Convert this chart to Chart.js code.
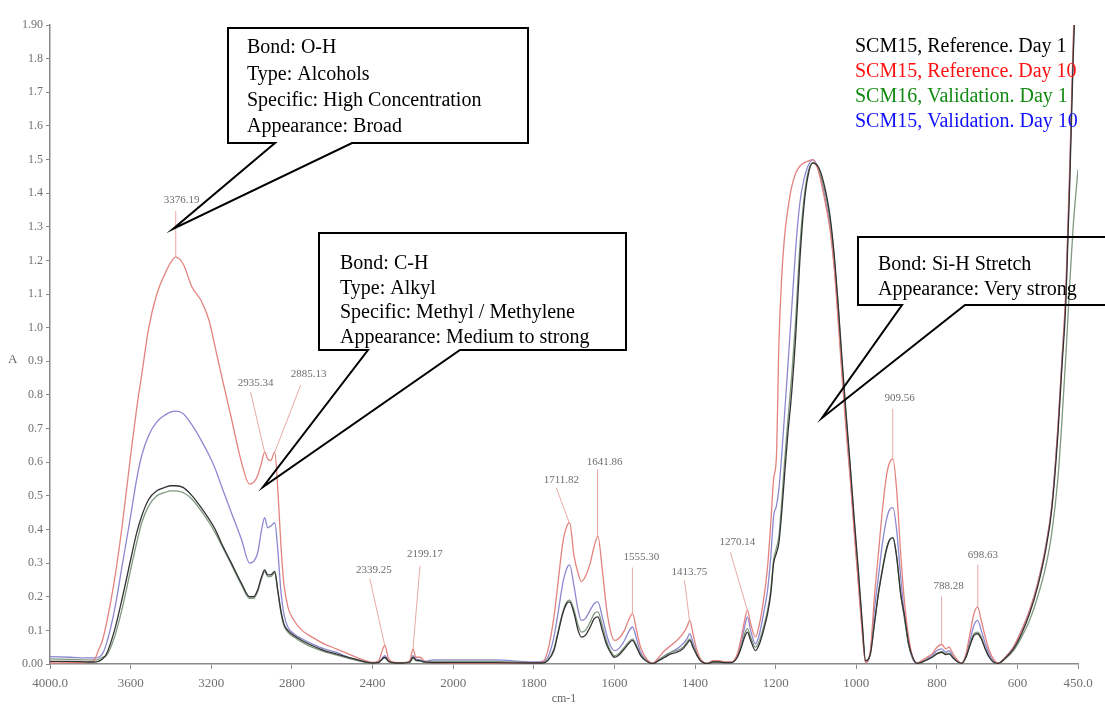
<!DOCTYPE html>
<html>
<head>
<meta charset="utf-8">
<script src="https://cdn.jsdelivr.net/npm/chart.js@4.4.0/dist/chart.umd.min.js"></script>
<style>
  html, body { margin: 0; padding: 0; background: #fff; }
</style>
</head>
<body>
<canvas id="grafico" width="1105" height="706"></canvas>
<script>
const numeroOnda = [
  4000, 3900, 3800, 3780, 3760, 3740, 3720, 3680, 3640, 3600, 3570, 3545, 3510, 3470, 3430, 3400, 3376, 3340, 3295, 3250, 3210, 3180, 3150, 3100, 3050, 3010,
  2990, 2970, 2950, 2935, 2920, 2905, 2885, 2870, 2855, 2840, 2820, 2790, 2750, 2700, 2640, 2580, 2520, 2460, 2400,
  2370, 2339, 2320, 2290, 2250, 2215, 2199, 2185, 2165, 2140, 2100, 2050, 2000, 1900, 1800,
  1780, 1765, 1750, 1740, 1728, 1718, 1711, 1700, 1690, 1682, 1672, 1660, 1650, 1641, 1630, 1620, 1610, 1600, 1590, 1575, 1565, 1555, 1545, 1535, 1520, 1505, 1490, 1475, 1460, 1445, 1430, 1420, 1413, 1405, 1395, 1385, 1370, 1355, 1340, 1325, 1310, 1295, 1285, 1277, 1270, 1262, 1250, 1240, 1230, 1220, 1212,
  1205, 1198, 1192, 1185, 1178, 1170, 1160, 1150, 1140, 1130, 1120, 1108, 1095, 1085, 1075, 1065, 1055, 1045, 1035, 1025, 1015, 1005, 995, 985, 977,
  965, 955, 945, 935, 925, 917, 909, 900, 890, 880, 870, 860, 850, 838, 825, 812, 800, 788, 778, 770, 760, 748, 738, 728, 718, 708, 699, 690, 680, 670, 660, 648, 630, 610, 590, 570, 550, 530, 515, 500, 490, 480, 470, 462, 450
];

// SCM15, Reference. Day 1
const refDia1 = [
  0.008, 0.008, 0.006, 0.006, 0.008, 0.015, 0.03, 0.10, 0.20, 0.31, 0.39, 0.44, 0.49, 0.515, 0.525, 0.53, 0.53, 0.525, 0.50, 0.465, 0.43, 0.40, 0.36, 0.30, 0.24, 0.20,
  0.20, 0.22, 0.26, 0.28, 0.265, 0.265, 0.275, 0.22, 0.16, 0.12, 0.10, 0.085, 0.07, 0.055, 0.04, 0.03, 0.02, 0.01, 0.003,
  0.005, 0.02, 0.008, 0.003, 0.003, 0.006, 0.02, 0.012, 0.01, 0.006, 0.004, 0.004, 0.004, 0.004, 0.003,
  0.003, 0.01, 0.04, 0.09, 0.15, 0.18, 0.185, 0.15, 0.10, 0.08, 0.085, 0.11, 0.135, 0.14, 0.10, 0.06, 0.035, 0.02, 0.025, 0.045, 0.06, 0.07, 0.05, 0.025, 0.008, 0.001, 0.01, 0.02, 0.03, 0.035, 0.045, 0.06, 0.07, 0.05, 0.025, 0.008, 0.001, 0.006, 0.006, 0.004, 0.004, 0.02, 0.05, 0.08, 0.095, 0.07, 0.04, 0.06, 0.10, 0.15, 0.21,
  0.30, 0.33, 0.36, 0.45, 0.56, 0.68, 0.81, 0.98, 1.20, 1.36, 1.45, 1.49, 1.48, 1.45, 1.40, 1.33, 1.22, 1.07, 0.90, 0.74, 0.59, 0.43, 0.28, 0.12, 0.01,
  0.03, 0.12, 0.21, 0.28, 0.34, 0.37, 0.375, 0.32, 0.21, 0.14, 0.06, 0.02, 0.002, 0.005, 0.012, 0.02, 0.03, 0.035, 0.028, 0.03, 0.018, 0.006, 0.002, 0.02, 0.055, 0.085, 0.09, 0.075, 0.045, 0.02, 0.006, 0.002, 0.018, 0.045, 0.09, 0.15, 0.23, 0.34, 0.46, 0.68, 0.88, 1.08, 1.45, 1.80, 2.20
];

// SCM15, Reference. Day 10
const refDia10 = [
  0.003, 0.004, 0.006, 0.012, 0.04, 0.07, 0.12, 0.25, 0.42, 0.62, 0.76, 0.86, 1.00, 1.10, 1.16, 1.195, 1.21, 1.19, 1.12, 1.08, 1.02, 0.94, 0.86, 0.73, 0.60, 0.535,
  0.54, 0.56, 0.60, 0.63, 0.61, 0.605, 0.63, 0.52, 0.36, 0.24, 0.17, 0.13, 0.10, 0.08, 0.06, 0.045, 0.03, 0.015, 0.005,
  0.01, 0.055, 0.015, 0.005, 0.004, 0.01, 0.045, 0.02, 0.02, 0.008, 0.004, 0.003, 0.002, 0.002, 0.004,
  0.005, 0.04, 0.14, 0.24, 0.36, 0.41, 0.42, 0.32, 0.27, 0.245, 0.26, 0.30, 0.35, 0.38, 0.28, 0.17, 0.10, 0.07, 0.075, 0.10, 0.13, 0.15, 0.10, 0.05, 0.015, 0.002, 0.02, 0.04, 0.055, 0.07, 0.09, 0.11, 0.13, 0.09, 0.04, 0.012, 0.002, 0.01, 0.01, 0.006, 0.006, 0.03, 0.08, 0.13, 0.16, 0.12, 0.08, 0.12, 0.19, 0.29, 0.42,
  0.55, 0.62, 0.95, 1.15, 1.27, 1.35, 1.42, 1.46, 1.48, 1.49, 1.495, 1.50, 1.47, 1.42, 1.36, 1.29, 1.18, 1.02, 0.85, 0.69, 0.55, 0.39, 0.24, 0.09, 0.005,
  0.04, 0.20, 0.33, 0.46, 0.56, 0.60, 0.61, 0.52, 0.33, 0.18, 0.08, 0.02, 0.003, 0.01, 0.02, 0.03, 0.05, 0.058, 0.045, 0.05, 0.03, 0.01, 0.003, 0.03, 0.09, 0.15, 0.17, 0.13, 0.08, 0.04, 0.015, 0.003, 0.02, 0.05, 0.10, 0.16, 0.24, 0.35, 0.47, 0.70, 0.90, 1.12, 1.50, 1.85, 2.30
];

// SCM16, Validation. Day 1
const valDia1 = [
  0.015, 0.014, 0.012, 0.012, 0.014, 0.02, 0.025, 0.08, 0.17, 0.28, 0.36, 0.42, 0.47, 0.50, 0.51, 0.515, 0.515, 0.51, 0.49, 0.455, 0.42, 0.39, 0.355, 0.295, 0.235, 0.195,
  0.195, 0.215, 0.255, 0.275, 0.26, 0.26, 0.27, 0.215, 0.155, 0.115, 0.095, 0.08, 0.065, 0.05, 0.037, 0.027, 0.017, 0.008, 0.002,
  0.004, 0.018, 0.007, 0.003, 0.003, 0.005, 0.018, 0.01, 0.009, 0.005, 0.008, 0.008, 0.008, 0.008, 0.004,
  0.004, 0.012, 0.045, 0.095, 0.155, 0.185, 0.19, 0.16, 0.115, 0.095, 0.10, 0.125, 0.15, 0.155, 0.115, 0.07, 0.04, 0.025, 0.03, 0.05, 0.065, 0.075, 0.055, 0.028, 0.009, 0.001, 0.012, 0.025, 0.035, 0.04, 0.05, 0.065, 0.075, 0.055, 0.028, 0.009, 0.001, 0.007, 0.007, 0.005, 0.005, 0.022, 0.055, 0.09, 0.105, 0.08, 0.05, 0.07, 0.11, 0.16, 0.22,
  0.31, 0.345, 0.38, 0.48, 0.60, 0.72, 0.86, 1.03, 1.24, 1.38, 1.46, 1.49, 1.475, 1.44, 1.39, 1.32, 1.21, 1.06, 0.89, 0.73, 0.58, 0.42, 0.27, 0.11, 0.008,
  0.03, 0.12, 0.21, 0.285, 0.345, 0.37, 0.375, 0.32, 0.21, 0.13, 0.055, 0.018, 0.002, 0.006, 0.013, 0.02, 0.032, 0.037, 0.03, 0.032, 0.02, 0.006, 0.002, 0.02, 0.06, 0.09, 0.095, 0.08, 0.045, 0.02, 0.006, 0.002, 0.016, 0.04, 0.08, 0.13, 0.20, 0.29, 0.39, 0.55, 0.72, 0.92, 1.14, 1.30, 1.47
];

// SCM15, Validation. Day 10
const valDia10 = [
  0.022, 0.02, 0.018, 0.018, 0.02, 0.03, 0.06, 0.16, 0.30, 0.44, 0.55, 0.62, 0.68, 0.72, 0.74, 0.75, 0.752, 0.745, 0.71, 0.665, 0.62, 0.58, 0.53, 0.45, 0.37, 0.30,
  0.305, 0.33, 0.40, 0.435, 0.405, 0.41, 0.42, 0.34, 0.22, 0.15, 0.11, 0.09, 0.075, 0.06, 0.045, 0.035, 0.02, 0.01, 0.003,
  0.005, 0.025, 0.01, 0.004, 0.004, 0.008, 0.025, 0.015, 0.012, 0.008, 0.012, 0.012, 0.012, 0.012, 0.006,
  0.008, 0.02, 0.08, 0.15, 0.24, 0.285, 0.295, 0.23, 0.16, 0.13, 0.135, 0.16, 0.18, 0.185, 0.14, 0.09, 0.055, 0.04, 0.045, 0.07, 0.095, 0.11, 0.075, 0.035, 0.01, 0.002, 0.012, 0.025, 0.035, 0.045, 0.06, 0.075, 0.09, 0.065, 0.03, 0.01, 0.002, 0.008, 0.008, 0.005, 0.005, 0.025, 0.065, 0.11, 0.14, 0.10, 0.06, 0.09, 0.15, 0.22, 0.32,
  0.44, 0.47, 0.52, 0.62, 0.74, 0.88, 1.06, 1.24, 1.37, 1.44, 1.48, 1.50, 1.475, 1.43, 1.37, 1.30, 1.19, 1.04, 0.87, 0.71, 0.56, 0.40, 0.25, 0.10, 0.005,
  0.035, 0.16, 0.26, 0.36, 0.43, 0.46, 0.465, 0.40, 0.26, 0.14, 0.06, 0.015, 0.002, 0.008, 0.015, 0.025, 0.04, 0.045, 0.035, 0.04, 0.022, 0.008, 0.002, 0.025, 0.07, 0.115, 0.13, 0.10, 0.06, 0.03, 0.01, 0.002, 0.02, 0.05, 0.10, 0.16, 0.24, 0.35, 0.47, 0.70, 0.90, 1.10, 1.48, 1.82, 2.25
];

const nomesSeries = ['SCM15, Reference. Day 1', 'SCM15, Reference. Day 10', 'SCM16, Validation. Day 1', 'SCM15, Validation. Day 10'];
const rotulosX = [4000, 3600, 3200, 2800, 2400, 2000, 1800, 1600, 1400, 1200, 1000, 800, 600, 450];

// picos marcados no espectro
const picosTexto = ['3376.19', '2935.34', '2885.13', '2339.25', '2199.17', '1711.82', '1641.86', '1555.30', '1413.75', '1270.14', '909.56', '788.28', '698.63'];
const picosOnda = [3376.19, 2935.34, 2885.13, 2339.25, 2199.17, 1711.82, 1641.86, 1555.30, 1413.75, 1270.14, 909.56, 788.28, 698.63];
const picosAbs = [1.21, 0.63, 0.63, 0.055, 0.045, 0.42, 0.38, 0.15, 0.13, 0.16, 0.61, 0.058, 0.17];

// cores / estilos
const coresLinha = ['#333333', '#e3837f', '#7f987f', '#8c88d0'];
const coresLegenda = ['#000000', '#ff1010', '#138a13', '#1010ff'];

// deslocamentos (px) de cada rotulo de pico: [linhaDx, linhaDy, textoDx, textoDy]
const deslocPicos = [
  [0, -46, 6, -57], [-14, -60, -9, -69], [26, -67, 34, -78], [-15, -67, -11, -75], [7, -83, 12, -95],
  [-13, -35, -8, -43], [0, -67, 7, -74], [0, -46, 9, -56], [-5, -40, 0, -48], [-17, -58, -10, -68],
  [0, -50, 7, -61], [0, -48, 7, -58], [0, -42, 5, -52]
];

// caixas de comentario
const caixas = [
  { linhas: ['Bond: O-H', 'Type: Alcohols', 'Specific: High Concentration', 'Appearance: Broad'],
    x0: 228, y0: 28, x1: 528, y1: 143, base: [275, 352], ponta: [173, 229], tx: 247, ty: 48, dy: 26.3 },
  { linhas: ['Bond: C-H', 'Type: Alkyl', 'Specific: Methyl / Methylene', 'Appearance: Medium to strong'],
    x0: 319, y0: 233, x1: 626, y1: 350, base: [368, 460], ponta: [263, 487], tx: 340, ty: 264, dy: 24.5 },
  { linhas: ['Bond: Si-H Stretch', 'Appearance: Very strong'],
    x0: 858, y0: 237, x1: 1115, y1: 305, base: [902, 965], ponta: [822, 418], tx: 878, ty: 265, dy: 25 }
];

// escala x com duas regioes (4000-2000 comprimida, 2000-450 expandida)
function ondaParaU(v) { return v >= 2000 ? (4000 - v) / 2 : 1000 + (2000 - v); }
function uParaOnda(u) { return u <= 1000 ? 4000 - u * 2 : 2000 - (u - 1000); }
const U_MAX = ondaParaU(450);

class EscalaOnda extends Chart.LinearScale {
  buildTicks() { return rotulosX.map(v => ({ value: v })); }
  getPixelForValue(v) { return this.getPixelForDecimal(ondaParaU(v) / U_MAX); }
  getValueForPixel(p) { return uParaOnda(this.getDecimalForPixel(p) * U_MAX); }
}
EscalaOnda.id = 'escalaOnda';
EscalaOnda.defaults = Chart.LinearScale.defaults;
Chart.register(EscalaOnda);

const serif = '"Liberation Serif", "Times New Roman", serif';
Chart.defaults.font.family = serif;

const anotacoes = {
  id: 'anotacoes',
  afterDatasetsDraw(chart) {
    const ctx = chart.ctx;
    const sx = chart.scales.x, sy = chart.scales.y;
    ctx.save();

    // rotulos dos picos
    ctx.font = '11px ' + serif;
    ctx.textAlign = 'center';
    ctx.textBaseline = 'middle';
    picosTexto.forEach((t, i) => {
      const px = sx.getPixelForValue(picosOnda[i]);
      const py = sy.getPixelForValue(picosAbs[i]);
      const d = deslocPicos[i];
      ctx.strokeStyle = '#e9aaa3';
      ctx.lineWidth = 1;
      ctx.beginPath();
      ctx.moveTo(px, py);
      ctx.lineTo(px + d[0], py + d[1]);
      ctx.stroke();
      ctx.fillStyle = '#6e6e6e';
      ctx.fillText(t, px + d[2], py + d[3]);
    });

    // caixas de comentario
    ctx.strokeStyle = '#000';
    ctx.lineWidth = 2;
    ctx.textAlign = 'left';
    ctx.font = '20px ' + serif;
    caixas.forEach(c => {
      ctx.beginPath();
      ctx.moveTo(c.base[0], c.y1);
      ctx.lineTo(c.x0, c.y1);
      ctx.lineTo(c.x0, c.y0);
      ctx.lineTo(c.x1, c.y0);
      ctx.lineTo(c.x1, c.y1);
      ctx.lineTo(c.base[1], c.y1);
      ctx.lineTo(c.ponta[0], c.ponta[1]);
      ctx.closePath();
      ctx.stroke();
      ctx.fillStyle = '#000';
      c.linhas.forEach((l, j) => ctx.fillText(l, c.tx, c.ty + j * c.dy));
    });

    // legenda
    nomesSeries.forEach((n, i) => {
      ctx.fillStyle = coresLegenda[i];
      ctx.fillText(n, 855, 47 + i * 25);
    });

    // titulo do eixo y
    ctx.fillStyle = '#666';
    ctx.font = '13px ' + serif;
    ctx.fillText('A', 8, sy.getPixelForValue(0.9) - 2);
    ctx.restore();
  }
};

const ctx = document.getElementById('grafico').getContext('2d');
const series = [refDia1, refDia10, valDia1, valDia10];

const grafico = new Chart(ctx, {
  type: 'line',
  data: {
    datasets: series.map((s, i) => ({
      label: nomesSeries[i],
      data: numeroOnda.map((x, k) => ({ x: x, y: s[k] })),
      borderColor: coresLinha[i],
      borderWidth: 1.3,
      pointRadius: 0,
      fill: false,
      cubicInterpolationMode: 'monotone'
    }))
  },
  options: {
    responsive: false,
    animation: false,
    events: [],
    layout: { padding: { top: 25, right: 27, bottom: 0, left: 0 } },
    plugins: { legend: { display: false }, tooltip: { enabled: false } },
    scales: {
      x: {
        type: 'escalaOnda',
        min: 450,
        max: 4000,
        afterFit: s => { s.height = 42; },
        border: { color: '#8a8a8a', width: 1.5 },
        grid: { drawOnChartArea: false, drawTicks: true, tickLength: 5, color: '#8a8a8a' },
        ticks: {
          autoSkip: false, maxRotation: 0, padding: 7, color: '#707070',
          font: { size: 13 },
          callback: v => (v === 4000 || v === 450) ? v.toFixed(1) : String(v)
        },
        title: { display: true, text: 'cm-1', color: '#666', font: { size: 12 }, padding: 0 }
      },
      y: {
        min: 0,
        max: 1.9,
        afterFit: s => { s.width = 50; },
        border: { color: '#8a8a8a', width: 1.5 },
        grid: { drawOnChartArea: false, drawTicks: true, tickLength: 4, color: '#8a8a8a' },
        ticks: {
          stepSize: 0.1, padding: 3, color: '#707070',
          font: { size: 12 },
          callback: v => {
            const r = Math.round(v * 10) / 10;
            if (r === 0) return '0.00';
            if (r === 1.9) return '1.90';
            return r.toFixed(1);
          }
        }
      }
    }
  },
  plugins: [anotacoes]
});
</script>
</body>
</html>
